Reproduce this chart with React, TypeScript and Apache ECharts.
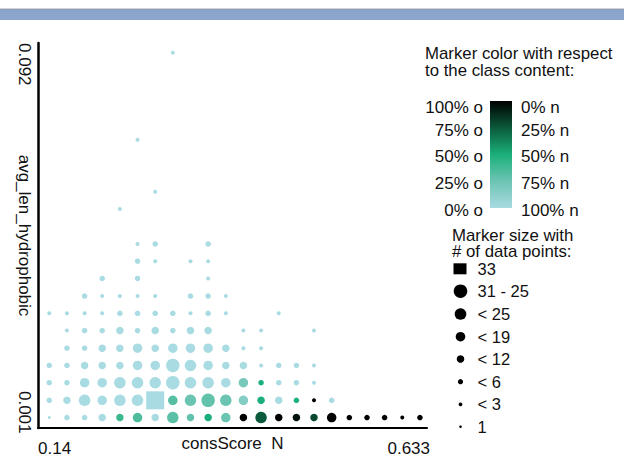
import React, { useEffect, useRef } from "react";
import * as echarts from "echarts";

// ---- data ----
const xBins = [0.14, 0.1635, 0.187, 0.2104, 0.2339, 0.2574, 0.2809, 0.3043, 0.3278, 0.3513, 0.3748,
  0.3982, 0.4217, 0.4452, 0.4687, 0.4921, 0.5156, 0.5391, 0.5626, 0.586, 0.6095, 0.633];
const yBins = [0.001, 0.0053, 0.0097, 0.014, 0.0183, 0.0227, 0.027, 0.0313, 0.0357, 0.04, 0.0443,
  0.0487, 0.053, 0.0573, 0.0617, 0.066, 0.0703, 0.0747, 0.079, 0.0833, 0.0877, 0.092];
const xTickLabels = ["0.14", "0.633"];
const yTickLabels = ["0.001", "0.092"];
const xName = "consScore  N";
const yName = "avg_len_hydrophobic";

// number of data points per cell; row 0 = lowest y bin; 0 = empty cell
const countRows: number[][] = [
  [1, 3, 4, 8, 8, 15, 8, 22, 8, 8, 15, 6, 22, 8, 10, 10, 15, 4, 4, 4, 2, 4],
  [3, 8, 22, 15, 22, 22, 33, 15, 22, 28, 22, 15, 6, 6, 4, 2, 5, 0, 0, 0, 0, 0],
  [4, 4, 12, 15, 22, 22, 22, 25, 22, 20, 15, 15, 4, 4, 4, 2, 0, 0, 0, 0, 0, 0],
  [4, 4, 8, 8, 8, 15, 15, 28, 22, 15, 8, 10, 2, 4, 4, 2, 0, 0, 0, 0, 0, 0],
  [0, 4, 4, 8, 8, 15, 8, 15, 15, 12, 8, 2, 2, 0, 0, 0, 0, 0, 0, 0, 0, 0],
  [0, 2, 4, 4, 8, 4, 8, 4, 8, 10, 0, 2, 2, 0, 0, 2, 0, 0, 0, 0, 0, 0],
  [2, 2, 2, 2, 4, 4, 4, 4, 2, 4, 2, 0, 0, 2, 0, 0, 0, 0, 0, 0, 0, 0],
  [0, 0, 4, 2, 2, 2, 2, 0, 4, 4, 2, 0, 0, 0, 0, 0, 0, 0, 0, 0, 0, 0],
  [0, 0, 0, 4, 0, 4, 0, 0, 0, 2, 0, 0, 0, 0, 0, 0, 0, 0, 0, 0, 0, 0],
  [0, 0, 0, 0, 0, 4, 2, 0, 2, 2, 0, 0, 0, 0, 0, 0, 0, 0, 0, 0, 0, 0],
  [0, 0, 0, 0, 0, 2, 4, 0, 0, 4, 0, 0, 0, 0, 0, 0, 0, 0, 0, 0, 0, 0],
  [0, 0, 0, 0, 0, 0, 0, 0, 0, 0, 0, 0, 0, 0, 0, 0, 0, 0, 0, 0, 0, 0],
  [0, 0, 0, 0, 2, 0, 0, 0, 0, 0, 0, 0, 0, 0, 0, 0, 0, 0, 0, 0, 0, 0],
  [0, 0, 0, 0, 0, 0, 2, 0, 0, 0, 0, 0, 0, 0, 0, 0, 0, 0, 0, 0, 0, 0],
  [0, 0, 0, 0, 0, 0, 0, 0, 0, 0, 0, 0, 0, 0, 0, 0, 0, 0, 0, 0, 0, 0],
  [0, 0, 0, 0, 0, 0, 0, 0, 0, 0, 0, 0, 0, 0, 0, 0, 0, 0, 0, 0, 0, 0],
  [0, 0, 0, 0, 0, 2, 0, 0, 0, 0, 0, 0, 0, 0, 0, 0, 0, 0, 0, 0, 0, 0],
  [0, 0, 0, 0, 0, 0, 0, 0, 0, 0, 0, 0, 0, 0, 0, 0, 0, 0, 0, 0, 0, 0],
  [0, 0, 0, 0, 0, 0, 0, 0, 0, 0, 0, 0, 0, 0, 0, 0, 0, 0, 0, 0, 0, 0],
  [0, 0, 0, 0, 0, 0, 0, 0, 0, 0, 0, 0, 0, 0, 0, 0, 0, 0, 0, 0, 0, 0],
  [0, 0, 0, 0, 0, 0, 0, 0, 0, 0, 0, 0, 0, 0, 0, 0, 0, 0, 0, 0, 0, 0],
  [0, 0, 0, 0, 0, 0, 0, 2, 0, 0, 0, 0, 0, 0, 0, 0, 0, 0, 0, 0, 0, 0],
];

// share of class "o" per cell (rows not listed are 0 = 100% n)
const oShareRows: number[][] = [
  [0, 0, 0, 0, 0.4, 0.35, 0, 0.3, 0.28, 0.5, 0.25, 1, 0.75, 1, 0.95, 0.8, 1, 1, 1, 1, 1, 1],
  [0, 0, 0, 0, 0, 0, 0, 0.32, 0.25, 0.28, 0.25, 0.15, 0.5, 0, 0.5, 1, 0, 0, 0, 0, 0, 0],
  [0, 0, 0, 0, 0, 0, 0, 0, 0, 0, 0, 0.2, 0.5, 0, 0, 0, 0, 0, 0, 0, 0, 0],
];

const colorTitle = "Marker color with respect\nto the class content:";
const colorLeftLabels = ["100% o", "75% o", "50% o", "25% o", "0% o"];
const colorRightLabels = ["0% n", "25% n", "50% n", "75% n", "100% n"];
const sizeTitle = "Marker size with\n# of data points:";
const sizeLegendLabels = ["33", "31 - 25", "< 25", "< 19", "< 12", "< 6", "< 3", "1"];

// ---- styling ----
const FONT = "'Liberation Sans', Arial, Helvetica, sans-serif";
const TXT = "#111";
const FS = 17;
const colorStops = ["#a9dbe3", "#6cc4b2", "#1bb07b", "#0b5a3b", "#000000"];

function sizeFor(n: number): number {
  if (n >= 33) return 18;
  if (n >= 25) return 13.5;
  if (n >= 19) return 11.5;
  if (n >= 12) return 9.5;
  if (n >= 6) return 7.5;
  if (n >= 3) return 5.5;
  if (n >= 2) return 4;
  return 3;
}

function buildData() {
  const out: any[] = [];
  countRows.forEach((row, r) => {
    row.forEach((n, c) => {
      if (!n) return;
      const share = oShareRows[r] ? oShareRows[r][c] : 0;
      const item: any = { value: [xBins[c], yBins[r], n, share] };
      if (n >= 33) item.symbol = "rect";
      out.push(item);
    });
  });
  return out;
}

function txt(text: string, x: number, y: number, align: string, extra: any = {}, fontSize = FS, lineHeight?: number) {
  const style: any = {
    text,
    fontSize,
    fontFamily: FONT,
    fill: TXT,
    align,
    verticalAlign: "middle",
    textAlign: align,
    textVerticalAlign: "middle",
  };
  if (lineHeight) style.lineHeight = lineHeight;
  return { type: "text", x, y, silent: true, ...extra, style };
}

export default function App() {
  const ref = useRef<HTMLDivElement>(null);
  useEffect(() => {
    if (!ref.current) return;
    const chart = echarts.init(ref.current, null, { renderer: "svg" });

    const graphics: any[] = [];
    // top banner
    graphics.push({ type: "rect", shape: { x: 0, y: 9, width: 624, height: 11 }, style: { fill: "#8ca5cc" }, silent: true });
    graphics.push({ type: "line", shape: { x1: 0, y1: 9, x2: 624, y2: 9 }, style: { stroke: "#8d929c", lineWidth: 0.8 }, silent: true });

    // axis end labels
    graphics.push(txt(xTickLabels[0], 38, 448.5, "left"));
    graphics.push(txt(xTickLabels[1], 430, 448.5, "right"));
    graphics.push(txt(yTickLabels[1], 24.5, 43, "left", { rotation: -Math.PI / 2 }));
    graphics.push(txt(yTickLabels[0], 24.5, 433.5, "right", { rotation: -Math.PI / 2 }));

    // color legend
    graphics.push(txt(colorTitle, 425, 61.8, "left", { scaleX: 1.05 }, 16, 16.5));
    const cy = [107.3, 130, 156.7, 183.3, 210];
    colorLeftLabels.forEach((t, i) => graphics.push(txt(t, 483, cy[i], "right")));
    colorRightLabels.forEach((t, i) => graphics.push(txt(t, 521, cy[i], "left")));
    graphics.push({
      type: "rect",
      shape: { x: 490, y: 101, width: 22, height: 107 },
      silent: true,
      style: {
        fill: new echarts.graphic.LinearGradient(0, 0, 0, 1, [
          { offset: 0, color: colorStops[4] },
          { offset: 0.25, color: colorStops[3] },
          { offset: 0.5, color: colorStops[2] },
          { offset: 0.75, color: colorStops[1] },
          { offset: 1, color: colorStops[0] },
        ]),
      },
    });

    // size legend
    graphics.push(txt(sizeTitle, 452, 243.3, "left", { scaleX: 1.05 }, 16, 16.5));
    const sy = [268.8, 291.2, 314, 336.7, 359, 381.7, 404.3, 426.7];
    const radii = [0, 6.8, 5.8, 4.8, 3.8, 2.6, 1.9, 1.3];
    sizeLegendLabels.forEach((t, i) => {
      graphics.push(txt(t, 477.5, sy[i], "left", {}, 16.5));
      if (i === 0) {
        graphics.push({ type: "rect", shape: { x: 453.5, y: sy[i] - 5.5, width: 13, height: 11 }, style: { fill: "#000" }, silent: true });
      } else {
        graphics.push({ type: "circle", shape: { cx: 460.5, cy: sy[i], r: radii[i] }, style: { fill: "#000" }, silent: true });
      }
    });

    const option: any = {
      animation: false,
      backgroundColor: "#ffffff",
      textStyle: { fontFamily: FONT },
      grid: { left: 38, right: 197, top: 43, bottom: 24 },
      xAxis: {
        type: "value",
        min: 0.125,
        max: 0.6424,
        name: xName,
        nameLocation: "middle",
        nameGap: 7,
        nameTextStyle: { fontSize: FS, color: TXT, fontFamily: FONT },
        axisLine: { onZero: false, lineStyle: { color: "#000", width: 2 } },
        axisTick: { show: false },
        axisLabel: { show: false },
        splitLine: { show: false },
      },
      yAxis: {
        type: "value",
        min: -0.0016,
        max: 0.0944,
        name: yName,
        nameLocation: "middle",
        nameRotate: -90,
        nameGap: 5,
        nameTextStyle: { fontSize: FS, color: TXT, fontFamily: FONT },
        axisLine: { onZero: false, lineStyle: { color: "#000", width: 2.5 } },
        axisTick: { show: false },
        axisLabel: { show: false },
        splitLine: { show: false },
      },
      visualMap: {
        show: false,
        type: "continuous",
        seriesIndex: 0,
        dimension: 3,
        min: 0,
        max: 1,
        inRange: { color: colorStops },
      },
      series: [
        {
          type: "scatter",
          data: buildData(),
          symbol: "circle",
          symbolSize: (v: number[]) => sizeFor(v[2]),
          itemStyle: { opacity: 1 },
        },
      ],
      graphic: graphics,
    };
    chart.setOption(option);
    return () => chart.dispose();
  }, []);
  return (
    <div
      ref={ref}
      style={{ position: "absolute", left: 0, top: 0, width: 624, height: 457, background: "#fff" }}
    />
  );
}
